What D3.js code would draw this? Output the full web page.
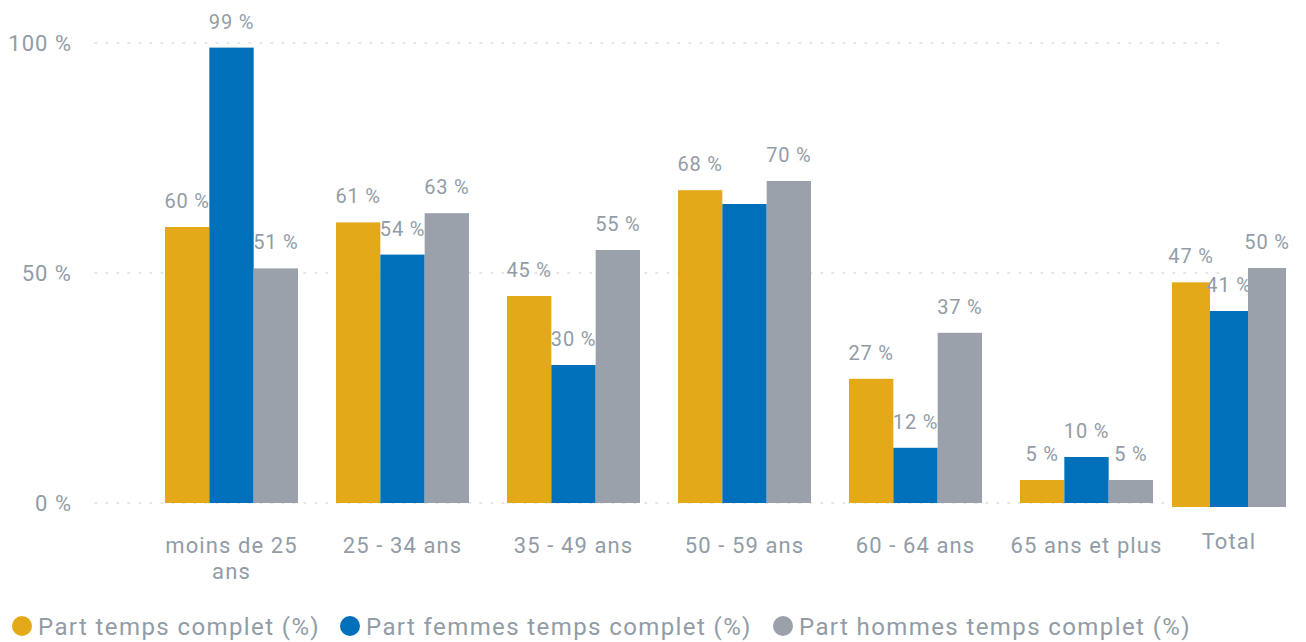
<!DOCTYPE html>
<html><head><meta charset="utf-8">
<script src="https://cdn.jsdelivr.net/npm/d3@7"></script>
<style>
html,body{margin:0;padding:0;background:#fff;}
svg{display:block;font-family:Roboto, "Open Sans", sans-serif;}
</style></head>
<body>
<svg id="chart" width="1306" height="642"></svg>
<script>
const categories = ["moins de 25 ans", "25 - 34 ans", "35 - 49 ans", "50 - 59 ans", "60 - 64 ans", "65 ans et plus", "Total"];
const seriesNames = ["Part temps complet (%)", "Part femmes temps complet (%)", "Part hommes temps complet (%)"];
const partTemps   = [60, 61, 45, 68, 27, 5, 47];
const partFemmes  = [99, 54, 30, 65, 12, 10, 41];
const partHommes  = [51, 63, 55, 70, 37, 5, 50];
const showLabels  = [
  [true, true, true, true, true, true, true],
  [true, true, true, false, true, true, true],
  [true, true, true, true, true, true, true]
];
const yTicks = [0, 50, 100];
const colors = ["#E3A918", "#0070BA", "#9AA1AA"];

const series = [partTemps, partFemmes, partHommes];
const svg = d3.select("#chart");
const textCol = "#929CA6";

const ageCats = categories.slice(0, 6);
const totalCats = categories.slice(6);

const x0 = d3.scaleBand().domain(ageCats).range([165, 1153]).paddingInner(0.2222).paddingOuter(0);
const x0t = d3.scaleBand().domain(totalCats).range([1172, 1286]).padding(0);
const y = d3.scaleLinear().domain([0, 100]).range([503, 43]);
const yt = d3.scaleLinear().domain([0, 100]).range([507, 29]);

// gridlines
svg.append("g").selectAll("line").data(yTicks).join("line")
  .attr("x1", 95).attr("x2", 1222)
  .attr("y1", d => y(d)).attr("y2", d => y(d))
  .attr("stroke", "#DADDE1").attr("stroke-width", 1.6)
  .attr("stroke-dasharray", "1.6 9.4").attr("stroke-linecap", "round");

// y axis
const yAxis = d3.axisLeft(y).tickValues(yTicks).tickFormat(d => d + " %").tickSize(0).tickPadding(0);
const ga = svg.append("g").attr("transform", "translate(72,0)").call(yAxis);
ga.select(".domain").remove();
ga.selectAll("text").attr("fill", textCol).attr("font-size", 22).attr("dy", "0.32em")
  .attr("letter-spacing", 1).attr("font-family", "Roboto, sans-serif");

function groupInfo(cat) {
  if (ageCats.includes(cat)) {
    const x1 = d3.scaleBand().domain([0,1,2]).range([0, x0.bandwidth()]);
    return {x: x0(cat), x1, y};
  } else {
    const x1 = d3.scaleBand().domain([0,1,2]).range([0, x0t.bandwidth()]);
    return {x: x0t(cat), x1, y: yt};
  }
}

series.forEach((vals, si) => {
  const g = svg.append("g");
  g.selectAll("rect").data(categories).join("rect")
    .attr("x", (c) => { const gi = groupInfo(c); return gi.x + gi.x1(si); })
    .attr("width", c => groupInfo(c).x1.bandwidth())
    .attr("y", (c, i) => groupInfo(c).y(vals[i]))
    .attr("height", (c, i) => { const gi = groupInfo(c); return gi.y(0) - gi.y(vals[i]); })
    .attr("fill", colors[si]);
  g.selectAll("text").data(categories).join("text")
    .filter((c, i) => showLabels[si][i])
    .attr("x", (c) => { const gi = groupInfo(c); return gi.x + gi.x1(si) + gi.x1.bandwidth() / 2; })
    .attr("y", (c) => { const gi = groupInfo(c); return gi.y(vals[categories.indexOf(c)]) - 19; })
    .attr("text-anchor", "middle")
    .attr("fill", textCol).attr("font-size", 20).attr("letter-spacing", 0.8)
    .text(c => vals[categories.indexOf(c)] + " %");
});

// x labels
const xl = svg.append("g");
ageCats.forEach(c => {
  const cx = x0(c) + x0.bandwidth() / 2;
  const lines = c === "moins de 25 ans" ? ["moins de 25", "ans"] : [c];
  lines.forEach((l, k) => {
    xl.append("text").attr("x", cx).attr("y", 553 + k * 26).attr("text-anchor", "middle")
      .attr("fill", textCol).attr("font-size", 22).attr("letter-spacing", 1.1).text(l);
  });
});
totalCats.forEach(c => {
  xl.append("text").attr("x", x0t(c) + x0t.bandwidth() / 2).attr("y", 549).attr("text-anchor", "middle")
    .attr("fill", textCol).attr("font-size", 22).attr("letter-spacing", 1.1).text(c);
});

// legend
const legendX = [22, 350, 783];
const lg = svg.append("g");
seriesNames.forEach((n, i) => {
  lg.append("circle").attr("cx", legendX[i]).attr("cy", 626).attr("r", 10).attr("fill", colors[i]);
  lg.append("text").attr("x", legendX[i] + 16).attr("y", 635).attr("fill", textCol)
    .attr("font-size", 24).attr("letter-spacing", 1.4).text(n);
});
</script>
</body></html>
